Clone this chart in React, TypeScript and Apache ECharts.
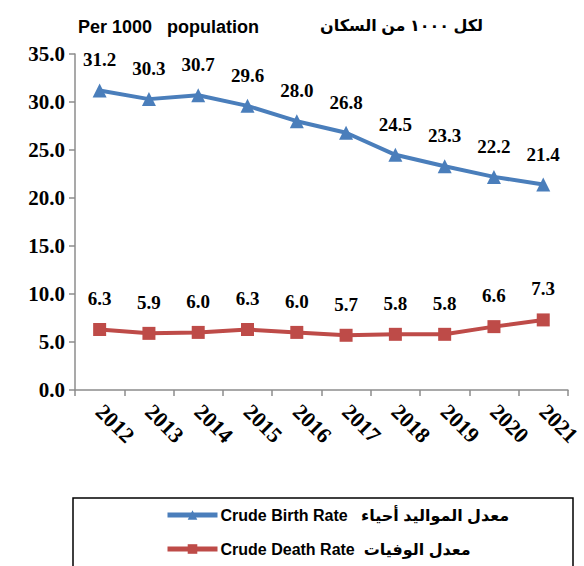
import React, { useEffect, useRef } from "react";
import * as echarts from "echarts";

const years = ["2012", "2013", "2014", "2015", "2016", "2017", "2018", "2019", "2020", "2021"];
const birthRate = [31.2, 30.3, 30.7, 29.6, 28.0, 26.8, 24.5, 23.3, 22.2, 21.4];
const deathRate = [6.3, 5.9, 6.0, 6.3, 6.0, 5.7, 5.8, 5.8, 6.6, 7.3];
const birthName = "Crude Birth Rate   معدل المواليد أحياء";
const deathName = "Crude Death Rate  معدل الوفيات";
const titleEn = "Per 1000   population";
const titleAr = "لكل ١٠٠٠ من السكان";

export default function App() {
  const ref = useRef<HTMLDivElement>(null);
  useEffect(() => {
    if (!ref.current) return;
    const chart = echarts.init(ref.current, undefined, { renderer: "svg" });
    const serif = "'Liberation Serif', 'Times New Roman', serif";
    const sans = "'Liberation Sans', Arial, 'DejaVu Sans', sans-serif";
    const labelStyle = {
      show: true,
      position: "top" as const,
      fontFamily: serif,
      fontWeight: "bold" as const,
      fontSize: 19,
      color: "#000",
      formatter: (p: any) => Number(p.value).toFixed(1),
    };
    chart.setOption({
      animation: false,
      backgroundColor: "#fff",
      grid: { left: 75, right: 11, top: 54, bottom: 176, containLabel: false },
      graphic: [
        {
          type: "text",
          left: 78,
          top: 18,
          style: { text: titleEn, font: `bold 18px ${sans}`, fill: "#000" },
        },
        {
          type: "text",
          left: 320,
          top: 17,
          style: { text: titleAr, font: `bold 16px ${sans}`, fill: "#000" },
        },
        {
          type: "rect",
          shape: { x: 73, y: 498, width: 500, height: 90 },
          style: { fill: "none", stroke: "#000", lineWidth: 1.5 },
        },
      ],
      legend: {
        orient: "vertical",
        left: 165,
        top: 507,
        itemWidth: 50,
        itemHeight: 12,
        itemGap: 18,
        padding: 0,
        lineStyle: { width: 5 },
        textStyle: { fontFamily: sans, fontWeight: "bold", fontSize: 16, color: "#000", padding: [0, 0, 0, -2] },
        data: [birthName, deathName],
      },
      xAxis: {
        type: "category",
        data: years,
        boundaryGap: true,
        axisLine: { lineStyle: { color: "#8c8c8c", width: 1.5 } },
        axisTick: { show: true, length: 6, lineStyle: { color: "#8c8c8c", width: 1.5 } },
        axisLabel: {
          rotate: -45,
          margin: 18,
          fontFamily: serif,
          fontWeight: "bold",
          fontSize: 22,
          color: "#000",
          interval: 0,
        },
        splitLine: { show: false },
      },
      yAxis: {
        type: "value",
        min: 0,
        max: 35,
        interval: 5,
        axisLine: { show: true, lineStyle: { color: "#8c8c8c", width: 1.5 } },
        axisTick: { show: true, length: 6, lineStyle: { color: "#8c8c8c", width: 1.5 } },
        axisLabel: {
          margin: 10,
          fontFamily: serif,
          fontWeight: "bold",
          fontSize: 21,
          color: "#000",
          formatter: (v: number) => v.toFixed(1),
        },
        splitLine: { show: false },
      },
      series: [
        {
          name: birthName,
          type: "line",
          data: birthRate,
          symbol: "triangle",
          symbolSize: 14,
          lineStyle: { color: "#4a7ebb", width: 4 },
          itemStyle: { color: "#4a7ebb" },
          label: { ...labelStyle, distance: 14 },
        },
        {
          name: deathName,
          type: "line",
          data: deathRate,
          symbol: "rect",
          symbolSize: 13,
          lineStyle: { color: "#be4b48", width: 4 },
          itemStyle: { color: "#be4b48" },
          label: { ...labelStyle, distance: 15 },
        },
      ],
    });
    return () => chart.dispose();
  }, []);
  return <div ref={ref} style={{ position: "fixed", left: 0, top: 0, width: 584, height: 566 }} />;
}
